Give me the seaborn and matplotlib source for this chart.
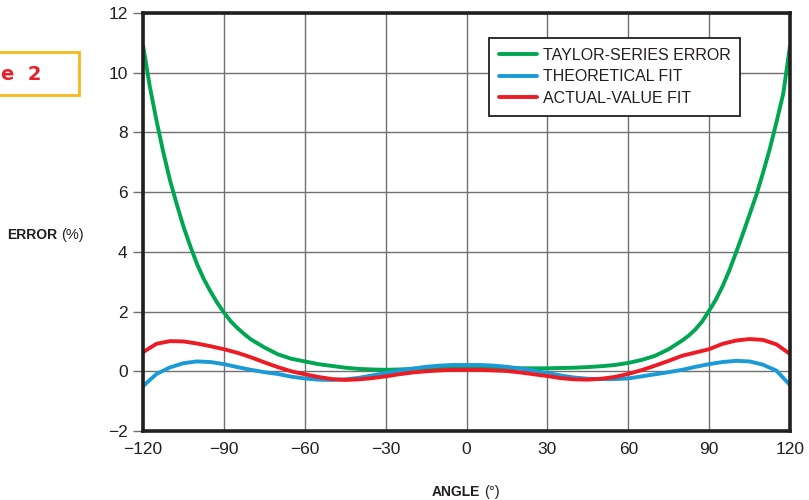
import numpy as np
import pandas as pd
import matplotlib
matplotlib.use("Agg")
import matplotlib.pyplot as plt
import seaborn as sns
from matplotlib.patches import Rectangle
from matplotlib.lines import Line2D

# Taylor-series error is read more densely where it is steep
taylor_angles = [-120, -117.5, -115, -112.5, -110, -107.5, -105, -102.5, -100, -97.5, -95,
                 -92.5, -90, -87.5, -85, -82.5, -80, -75, -70, -65, -60, -55, -50, -45,
                 -40, -35, -30, -25, -20, -15, -10, -5, 0, 5, 10, 15, 20, 25, 30, 35, 40,
                 45, 50, 55, 60, 65, 70, 75, 80, 82.5, 85, 87.5, 90, 92.5, 95, 97.5, 100,
                 102.5, 105, 107.5, 110, 112.5, 115, 117.5, 120]
taylor_error = [10.93, 9.55, 8.4, 7.35, 6.4, 5.6, 4.85, 4.2, 3.6, 3.1, 2.68,
                2.3, 1.97, 1.68, 1.45, 1.25, 1.07, 0.8, 0.57, 0.42, 0.33, 0.24, 0.18, 0.12,
                0.08, 0.06, 0.05, 0.06, 0.08, 0.10, 0.12, 0.13, 0.13, 0.13, 0.12, 0.11,
                0.10, 0.10, 0.10, 0.11, 0.12, 0.14, 0.17, 0.21, 0.28, 0.38, 0.52, 0.74,
                1.03, 1.2, 1.41, 1.68, 2.03, 2.4, 2.85, 3.38, 3.98, 4.6, 5.25, 5.9, 6.65,
                7.45, 8.35, 9.3, 10.9]

fit_angles = list(range(-120, 121, 5))
theoretical_fit = [-0.5, -0.09, 0.13, 0.27, 0.33, 0.31, 0.24, 0.14, 0.05, -0.03, -0.09, -0.18,
                   -0.24, -0.28, -0.29, -0.27, -0.22, -0.14, -0.06, 0.02, 0.09, 0.15, 0.19,
                   0.21, 0.21, 0.21, 0.19, 0.15, 0.09, 0.02, -0.06, -0.14, -0.21, -0.25,
                   -0.26, -0.26, -0.24, -0.17, -0.1, -0.03, 0.05, 0.15, 0.24, 0.31, 0.35,
                   0.33, 0.22, 0.02, -0.46]
actual_fit = [0.64, 0.92, 1.01, 1.0, 0.93, 0.84, 0.74, 0.62, 0.47, 0.3, 0.14, 0.0, -0.1,
              -0.19, -0.26, -0.29, -0.27, -0.23, -0.17, -0.1, -0.04, 0.0, 0.03, 0.05, 0.05,
              0.05, 0.03, 0.01, -0.04, -0.1, -0.16, -0.23, -0.27, -0.28, -0.25, -0.19, -0.09,
              0.04, 0.19, 0.35, 0.52, 0.63, 0.74, 0.92, 1.03, 1.08, 1.05, 0.9, 0.58]

series_names = ["TAYLOR-SERIES ERROR", "THEORETICAL FIT", "ACTUAL-VALUE FIT"]
series_colors = ["#00a651", "#1a9bd7", "#ed1c24"]

x_ticks = [-120, -90, -60, -30, 0, 30, 60, 90, 120]
x_tick_labels = ["\u2212120", "\u221290", "\u221260", "\u221230", "0", "30", "60", "90", "120"]
y_ticks = [-2, 0, 2, 4, 6, 8, 10, 12]
y_tick_labels = ["\u22122", "0", "2", "4", "6", "8", "10", "12"]

df = pd.concat([
    pd.DataFrame({"angle": taylor_angles, "error": taylor_error, "series": series_names[0]}),
    pd.DataFrame({"angle": fit_angles, "error": theoretical_fit, "series": series_names[1]}),
    pd.DataFrame({"angle": fit_angles, "error": actual_fit, "series": series_names[2]}),
])

sns.set_style("white")
fam = ["Liberation Sans", "DejaVu Sans"]
plt.rcParams["font.family"] = fam

fig = plt.figure(figsize=(8.09, 5.0), dpi=100)
ax = fig.add_axes([143 / 809, 1 - 431 / 500, (790 - 143) / 809, (431 - 13) / 500])

sns.lineplot(data=df, x="angle", y="error", hue="series", hue_order=series_names,
             palette=series_colors, linewidth=2.8, ax=ax, legend=False, sort=False)
for ln in ax.lines:
    ln.set_solid_joinstyle("round")
    ln.set_solid_capstyle("butt")

ax.set_xlim(-120, 120)
ax.set_ylim(-2, 12)
ax.set_xticks(x_ticks)
ax.set_xticklabels(x_tick_labels)
ax.set_yticks(y_ticks)
ax.set_yticklabels(y_tick_labels)
ax.grid(True, color="#707070", linewidth=1.0)
ax.set_axisbelow(True)
for s in ax.spines.values():
    s.set_visible(True)
    s.set_color("#231f20")
    s.set_linewidth(2.6)
ax.tick_params(axis="x", length=0, pad=8, labelsize=12.5, labelcolor="#231f20")
ax.tick_params(axis="y", length=7, width=1, color="#707070", pad=4, labelsize=12.5,
               labelcolor="#231f20", left=True)
ax.set_xlabel("")
ax.set_ylabel("")

handles = [Line2D([0], [0], color=c, lw=2.8) for c in series_colors]
leg = ax.legend(handles, series_names, loc="upper left", bbox_to_anchor=(0.535, 0.94),
                frameon=True, fancybox=False, edgecolor="#231f20", framealpha=1,
                fontsize=11.5, handlelength=2.4, handletextpad=0.35, labelspacing=0.42,
                borderpad=0.6, borderaxespad=0)
leg.get_frame().set_linewidth(1.3)
for t in leg.get_texts():
    t.set_color("#231f20")

# axis labels with bold + regular parts
fig.text(57 / 809, 1 - 235 / 500, "ERROR", fontweight="bold", fontsize=10,
         ha="right", va="center", color="#231f20")
fig.text(61 / 809, 1 - 235 / 500, "(%)", fontsize=10.5, ha="left", va="center",
         color="#231f20")
fig.text(480 / 809, 1 - 492 / 500, "ANGLE", fontweight="bold", fontsize=10,
         ha="right", va="center", color="#231f20")
fig.text(484 / 809, 1 - 492 / 500, "(\u00b0)", fontsize=10.5, ha="left", va="center",
         color="#231f20")

# partially visible figure caption box
fig.patches.append(Rectangle((-10 / 809, 1 - 95 / 500), 89 / 809, 43 / 500,
                             transform=fig.transFigure, fill=False,
                             edgecolor="#f6b919", linewidth=2))
fig.text(1 / 809, 1 - 74 / 500, "e  2", fontweight="bold", fontsize=14,
         color="#e8202a", ha="left", va="center", family=["DejaVu Sans"])

fig.savefig("out.png", dpi=100)
